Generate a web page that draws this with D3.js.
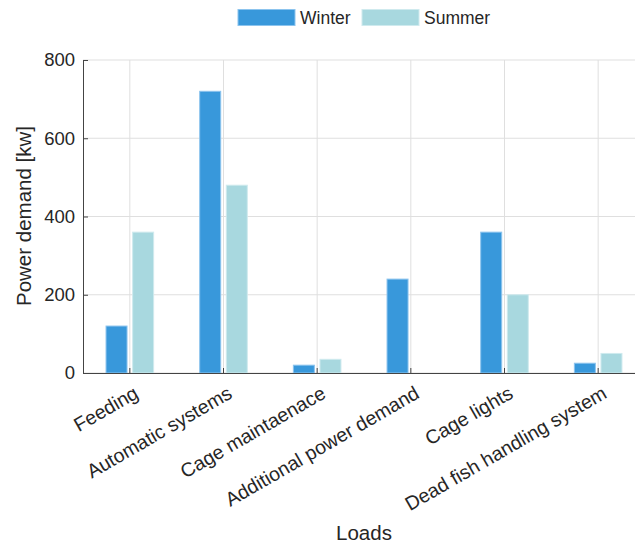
<!DOCTYPE html>
<html>
<head>
<meta charset="utf-8">
<script src="https://cdn.jsdelivr.net/npm/d3@7"></script>
<style>
  html, body { margin: 0; padding: 0; background: #fff; }
  svg { display: block; font-family: "Liberation Sans", Arial, Helvetica, sans-serif; }
</style>
</head>
<body>
<svg id="chart" width="635" height="544"></svg>
<script>
// Power demand per load, winter vs summer (kW)
const categories = ["Feeding", "Automatic systems", "Cage maintaenace", "Additional power demand", "Cage lights", "Dead fish handling system"];
const seriesNames = ["Winter", "Summer"];
const winterValues = [120, 720, 20, 240, 360, 25];
const summerValues = [360, 480, 35, 0, 200, 50];
const yTicks = [0, 200, 400, 600, 800];

const colors = { Winter: "#3898db", Summer: "#a8d8df" };
const edgeColors = { Winter: "#8cc4ee", Summer: "#cfeaee" };
const textColor = "#262626";

const svg = d3.select("#chart");
const plotLeft = 83, plotTop = 60, plotBottom = 373, plotRight = 645;

const x = d3.scaleBand().domain(categories).range([plotLeft, plotRight]).padding(0);
const x1 = d3.scaleBand().domain(seriesNames).range([-23.8, 23.8]).paddingInner(0.21);
const y = d3.scaleLinear().domain([0, 800]).range([plotBottom, plotTop]);

const rows = categories.map((c, i) => ({ category: c, Winter: winterValues[i], Summer: summerValues[i] }));

// grid lines
const grid = svg.append("g");
grid.selectAll("line.h").data(yTicks).join("line")
  .attr("class", "h")
  .attr("x1", plotLeft).attr("x2", plotRight)
  .attr("y1", d => y(d)).attr("y2", d => y(d))
  .attr("stroke", "#dfdfdf").attr("stroke-width", 1);
grid.selectAll("line.v").data(categories).join("line")
  .attr("class", "v")
  .attr("x1", d => x(d) + x.bandwidth() / 2).attr("x2", d => x(d) + x.bandwidth() / 2)
  .attr("y1", plotTop).attr("y2", plotBottom)
  .attr("stroke", "#dfdfdf").attr("stroke-width", 1);

// bars
const groups = svg.append("g").selectAll("g").data(rows).join("g")
  .attr("transform", d => `translate(${x(d.category) + x.bandwidth() / 2},0)`);
groups.selectAll("rect").data(d => seriesNames.map(s => ({ s, v: d[s] })).filter(e => e.v > 0)).join("rect")
  .attr("x", d => x1(d.s))
  .attr("width", x1.bandwidth())
  .attr("y", d => y(d.v))
  .attr("height", d => y(0) - y(d.v))
  .attr("fill", d => colors[d.s])
  .attr("stroke", d => edgeColors[d.s])
  .attr("stroke-width", 1);

// y axis
const yAxis = d3.axisLeft(y).tickValues(yTicks).tickSizeInner(-5).tickSizeOuter(0).tickPadding(8);
const gy = svg.append("g").attr("transform", `translate(${plotLeft},0)`).call(yAxis);
gy.select(".domain").attr("stroke", "#444").attr("stroke-width", 1);
gy.selectAll(".tick line").attr("stroke", "#444");
gy.selectAll(".tick text").attr("font-size", 18.5).attr("fill", textColor)
  .attr("font-family", "Liberation Sans, Arial, sans-serif");

// x axis
const xAxis = d3.axisBottom(x).tickSizeInner(-5).tickSizeOuter(0).tickFormat(d => d);
const gx = svg.append("g").attr("transform", `translate(0,${plotBottom})`).call(xAxis);
gx.select(".domain").attr("stroke", "#444").attr("stroke-width", 1);
gx.selectAll(".tick line").attr("stroke", "#444");
gx.selectAll(".tick text")
  .attr("font-size", 19.5).attr("fill", textColor)
  .attr("font-family", "Liberation Sans, Arial, sans-serif")
  .attr("text-anchor", "end")
  .attr("x", 0).attr("y", 0).attr("dy", "0.71em")
  .attr("transform", "translate(3,12) rotate(-30)");

// axis titles
svg.append("text")
  .attr("x", 364).attr("y", 540)
  .attr("text-anchor", "middle")
  .attr("font-size", 20.5).attr("fill", textColor)
  .text("Loads");
svg.append("text")
  .attr("transform", "translate(31,216) rotate(-90)")
  .attr("text-anchor", "middle")
  .attr("font-size", 20.5).attr("fill", textColor)
  .text("Power demand [kw]");

// legend
const legend = svg.append("g");
const legendX = [238, 362];
seriesNames.forEach((s, i) => {
  legend.append("rect")
    .attr("x", legendX[i]).attr("y", 9.5).attr("width", 57).attr("height", 16)
    .attr("fill", colors[s]).attr("stroke", edgeColors[s]).attr("stroke-width", 1);
  legend.append("text")
    .attr("x", legendX[i] + 62).attr("y", 24)
    .attr("font-size", 17.5).attr("fill", textColor)
    .text(s);
});
</script>
</body>
</html>
